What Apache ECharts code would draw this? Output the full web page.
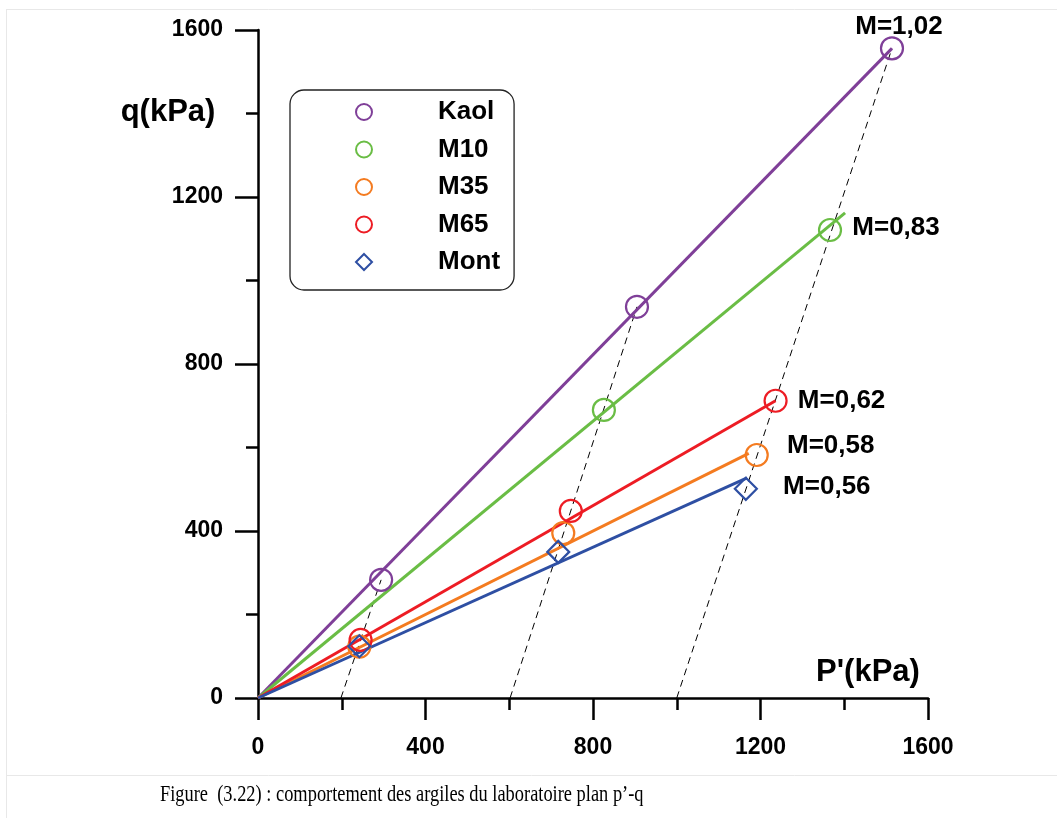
<!DOCTYPE html>
<html>
<head>
<meta charset="utf-8">
<script src="https://cdn.jsdelivr.net/npm/echarts@6/dist/echarts.min.js"></script>
<style>
html,body{margin:0;padding:0;background:#fff;}
#chart{width:1057px;height:818px;}
</style>
</head>
<body>
<div id="chart"></div>
<script>
// ---- data ----
const seriesNames = ['Kaol', 'M10', 'M35', 'M65', 'Mont'];
const kaolPts = [[294, 283], [905, 937], [1514, 1556]];
const m10Pts = [[826, 690], [1366, 1121]];
const m35Pts = [[242, 123], [729, 395], [1191, 582]];
const m65Pts = [[245, 139], [747, 448], [1236, 712]];
const montPts = [[242, 124], [717, 350], [1165, 501]];
const kaolLine = [[0, 0], [1514, 1556]];
const m10Line = [[0, 0], [1402, 1162]];
const m35Line = [[0, 0], [1172, 586]];
const m65Line = [[0, 0], [1236, 712]];
const montLine = [[0, 0], [1168, 527]];
const dashPath1 = [[198, 0], [294, 283]];
const dashPath2 = [[602, 0], [905, 937]];
const dashPath3 = [[1000, 0], [1514, 1556]];
const slopeLabels = ['M=1,02', 'M=0,83', 'M=0,58', 'M=0,62', 'M=0,56'];
const xTicks = [0, 400, 800, 1200, 1600];
const yTicks = [0, 400, 800, 1200, 1600];
const xTitle = "P'(kPa)";
const yTitle = 'q(kPa)';
const caption = 'Figure  (3.22) : comportement des argiles du laboratoire plan p’-q';

// ---- styling ----
const colors = ['#7f3f98', '#6abd45', '#f47b20', '#ed1c24', '#2e4fa3'];
const symbols = ['circle', 'circle', 'circle', 'circle', 'diamond'];
const labelOffsets = [[7, -22], [66, -2], [74, -9], [66, 0], [81, -2]];
const pts = [kaolPts, m10Pts, m35Pts, m65Pts, montPts];
const lines = [kaolLine, m10Line, m35Line, m65Line, montLine];
const FONT = 'Liberation Sans, Arial, sans-serif';

const series = [];
seriesNames.forEach((name, i) => {
  series.push({
    name: name + ' fit',
    type: 'line',
    data: lines[i],
    symbol: 'none',
    lineStyle: {color: colors[i], width: 3},
    z: 4,
    silent: true
  });
});
[dashPath1, dashPath2, dashPath3].forEach((d, k) => {
  series.push({
    name: 'path' + k,
    type: 'line',
    data: d,
    symbol: 'none',
    lineStyle: {color: '#000', width: 1, type: [7, 5]},
    z: 3,
    silent: true
  });
});
seriesNames.forEach((name, i) => {
  const data = pts[i].map((p, j) => {
    if (j === pts[i].length - 1) {
      return {
        value: p,
        label: {
          show: true,
          formatter: slopeLabels[i],
          position: 'inside',
          offset: labelOffsets[i],
          color: '#000',
          opacity: 1,
          fontFamily: FONT,
          fontWeight: 'bold',
          fontSize: 26
        }
      };
    }
    return {value: p};
  });
  series.push({
    name: name,
    type: 'scatter',
    data: data,
    symbol: symbols[i],
    symbolSize: 22,
    itemStyle: {color: 'rgba(255,255,255,0)', borderColor: colors[i], borderWidth: 2.2, opacity: 1},
    z: 5
  });
});

const chart = echarts.init(document.getElementById('chart'), null, {renderer: 'canvas'});
chart.setOption({
  animation: false,
  backgroundColor: '#fff',
  grid: {left: 258, top: 30, width: 670, height: 668, containLabel: false},
  xAxis: {
    type: 'value', min: 0, max: 1600, interval: 400,
    axisLine: {show: true, onZero: false, lineStyle: {color: '#000', width: 2.5}},
    axisTick: {show: true, length: 22, lineStyle: {color: '#000', width: 2.5}},
    minorTick: {show: true, splitNumber: 2, length: 12, lineStyle: {color: '#000', width: 2.5}},
    splitLine: {show: false},
    axisLabel: {
      margin: 38, color: '#000', fontFamily: FONT, fontWeight: 'bold', fontSize: 23,
      formatter: v => xTicks.includes(v) ? String(v) : ''
    }
  },
  yAxis: {
    type: 'value', min: 0, max: 1600, interval: 400,
    axisLine: {show: true, onZero: false, lineStyle: {color: '#000', width: 2.5}},
    axisTick: {show: true, length: 23, lineStyle: {color: '#000', width: 2.5}},
    minorTick: {show: true, splitNumber: 2, length: 12, lineStyle: {color: '#000', width: 2.5}},
    splitLine: {show: false},
    axisLabel: {
      margin: 35, color: '#000', fontFamily: FONT, fontWeight: 'bold', fontSize: 23,
      formatter: v => yTicks.includes(v) ? String(v) : ''
    }
  },
  legend: {
    data: seriesNames,
    orient: 'vertical',
    left: 290, top: 90,
    padding: [9, 14, 15, 65],
    itemGap: 11.5,
    itemWidth: 16, itemHeight: 16,
    borderColor: '#222', borderWidth: 1.3, borderRadius: 14,
    selectedMode: false,
    itemStyle: {borderWidth: 2},
    textStyle: {
      color: '#000', fontFamily: FONT, fontWeight: 'bold', fontSize: 26,
      lineHeight: 26, padding: [0, 0, 0, 61]
    }
  },
  graphic: [
    {type: 'line', shape: {x1: 6, y1: 9.5, x2: 1057, y2: 9.5}, style: {stroke: '#e8e8e8', lineWidth: 1}, silent: true},
    {type: 'line', shape: {x1: 6.5, y1: 9, x2: 6.5, y2: 818}, style: {stroke: '#e8e8e8', lineWidth: 1}, silent: true},
    {type: 'line', shape: {x1: 6, y1: 775.5, x2: 1057, y2: 775.5}, style: {stroke: '#e8e8e8', lineWidth: 1}, silent: true},
    {type: 'text', x: 168, y: 112, style: {text: yTitle, font: 'bold 31px ' + FONT, fill: '#000', textAlign: 'center', textVerticalAlign: 'middle'}},
    {type: 'text', x: 868, y: 672, style: {text: xTitle, font: 'bold 31px ' + FONT, fill: '#000', textAlign: 'center', textVerticalAlign: 'middle'}},
    {type: 'text', x: 160, y: 795, scaleX: 0.8, style: {text: caption, font: '23px Liberation Serif, Times New Roman, serif', fill: '#000', textAlign: 'left', textVerticalAlign: 'middle'}}
  ],
  series: series
});
</script>
</body>
</html>
